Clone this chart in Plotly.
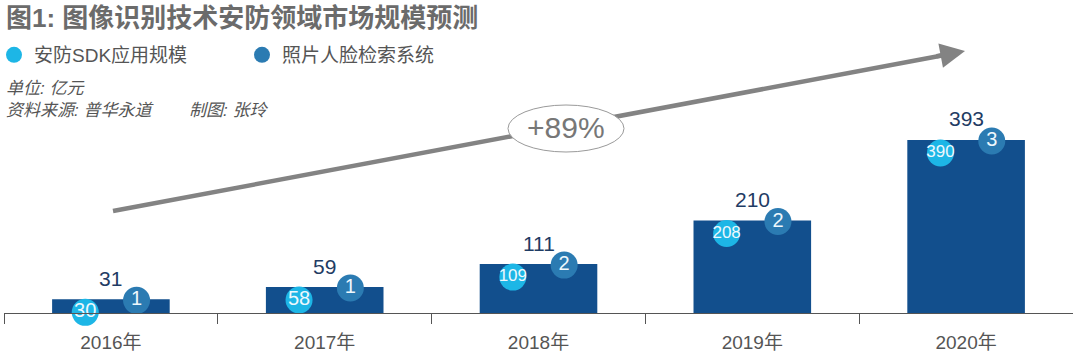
import plotly.graph_objects as go

# ---- data ----
years = ["2016年", "2017年", "2018年", "2019年", "2020年"]
sdk_values = [30, 58, 109, 208, 390]        # 安防SDK应用规模
face_values = [1, 1, 2, 2, 3]               # 照片人脸检索系统
total_values = [31, 59, 111, 210, 393]      # 合计
growth_text = "+89%"
series_names = ["安防SDK应用规模", "照片人脸检索系统"]
title_text = "图1: 图像识别技术安防领域市场规模预测"
unit_text = "单位: 亿元"
source_text = "资料来源: 普华永道"
author_text = "制图: 张玲"

# ---- geometry helpers (figure pixels -> paper) ----
W, H = 1080, 355
ML, MR, MT, MB = 4, 7, 40, 42
PW, PH = W - ML - MR, H - MT - MB


def px(x):
    return (x - ML) / PW


def py(y):
    return (H - MB - y) / PH


CJK = "Liberation Sans, Noto Sans CJK SC, sans-serif"
NARROW = "Liberation Sans Narrow, Arial Narrow, Liberation Sans, sans-serif"
BAR_COLOR = "#124f8d"
CYAN = "#1db6e6"
DARK = "#2b7bb2"
NAVY = "#1f3c64"
GREY = "#555555"

idx = list(range(len(years)))
fig = go.Figure()

fig.add_trace(go.Bar(
    x=idx, y=total_values, width=0.55, marker_color=BAR_COLOR,
    marker_line_width=0, showlegend=False, hoverinfo="skip",
))

# bubbles: offset left/right of bar centre
y_per_px = 620 / PH
fig.add_trace(go.Scatter(
    x=[i - 0.12 for i in idx],
    y=[t - 13 * y_per_px for t in total_values],
    mode="markers+text", name=series_names[0],
    marker=dict(size=27, color=CYAN),
    text=[str(v) for v in sdk_values],
    textposition="middle center",
    textfont=dict(color="#eef8fd", family=NARROW,
                  size=[20 if len(str(v)) < 3 else 17 for v in sdk_values]),
    cliponaxis=False, hoverinfo="skip",
))
fig.add_trace(go.Scatter(
    x=[i + 0.12 for i in idx],
    y=[t - 1 * y_per_px for t in total_values],
    mode="markers+text", name=series_names[1],
    marker=dict(size=27, color=DARK),
    text=[str(v) for v in face_values],
    textposition="middle center",
    textfont=dict(color="#eef8fd", family=NARROW, size=20),
    cliponaxis=False, hoverinfo="skip",
))

annotations = []
for i, t in zip(idx, total_values):
    annotations.append(dict(
        x=i, y=t, xref="x", yref="y", text=str(t), showarrow=False,
        yshift=21, font=dict(size=21, color=NAVY, family=CJK),
    ))

annotations += [
    dict(x=px(4), y=py(18), xref="paper", yref="paper", xanchor="left",
         yanchor="middle", showarrow=False, text="<b>" + title_text + "</b>",
         font=dict(size=26, color="#6b6b6b", family=CJK)),
    dict(x=px(4), y=py(88), xref="paper", yref="paper", xanchor="left",
         yanchor="middle", showarrow=False, text="<i>" + unit_text + "</i>",
         font=dict(size=17, color=GREY, family=CJK)),
    dict(x=px(4), y=py(110), xref="paper", yref="paper", xanchor="left",
         yanchor="middle", showarrow=False, text="<i>" + source_text + "</i>",
         font=dict(size=17, color=GREY, family=CJK)),
    dict(x=px(187), y=py(110), xref="paper", yref="paper", xanchor="left",
         yanchor="middle", showarrow=False, text="<i>" + author_text + "</i>",
         font=dict(size=17, color=GREY, family=CJK)),
    # arrowhead at the tip of the growth arrow
    dict(x=px(965), y=py(51), xref="paper", yref="paper", text="",
         showarrow=True, arrowhead=2, arrowsize=1.1, arrowwidth=4.5,
         arrowcolor="#838383", ax=-30, ay=5.6, axref="pixel", ayref="pixel"),
    dict(x=px(566), y=py(128), xref="paper", yref="paper", showarrow=False,
         yanchor="middle",
         text=growth_text, font=dict(size=30, color="#777777", family=CJK)),
]

shapes = [
    dict(type="line", xref="paper", yref="paper",
         x0=px(113), y0=py(211), x1=px(950), y1=py(54),
         line=dict(color="#838383", width=4.5)),
    dict(type="circle", xref="paper", yref="paper",
         x0=px(508), x1=px(624), y0=py(152), y1=py(105),
         fillcolor="white", line=dict(color="#9a9a9a", width=1)),
]

fig.update_layout(
    width=W, height=H,
    margin=dict(l=ML, r=MR, t=MT, b=MB, autoexpand=False),
    paper_bgcolor="white", plot_bgcolor="white",
    annotations=annotations, shapes=shapes,
    showlegend=True,
    legend=dict(orientation="h", x=px(-6), y=py(55), xanchor="left",
                yanchor="middle", font=dict(size=19, color=GREY, family=CJK),
                itemsizing="trace", entrywidth=203, bgcolor="rgba(0,0,0,0)",
                traceorder="normal"),
    xaxis=dict(range=[-0.5, 4.5], tickvals=idx, ticktext=years,
               ticks="", showline=True, linecolor=GREY, linewidth=1,
               showgrid=False, zeroline=False, fixedrange=True,
               tickfont=dict(size=19, color=GREY, family=CJK),
               ticklabelstandoff=12,
               minor=dict(tickvals=[-0.5, 0.5, 1.5, 2.5, 3.5], ticks="outside",
                          ticklen=10, tickcolor=GREY, showgrid=False)),
    yaxis=dict(range=[0, 620], visible=False, showgrid=False, zeroline=False,
               fixedrange=True),
)

fig.write_html(
    "out.html",
    config={"displayModeBar": False},
    post_script="document.body.style.margin='0';document.body.style.overflow='hidden';",
)
